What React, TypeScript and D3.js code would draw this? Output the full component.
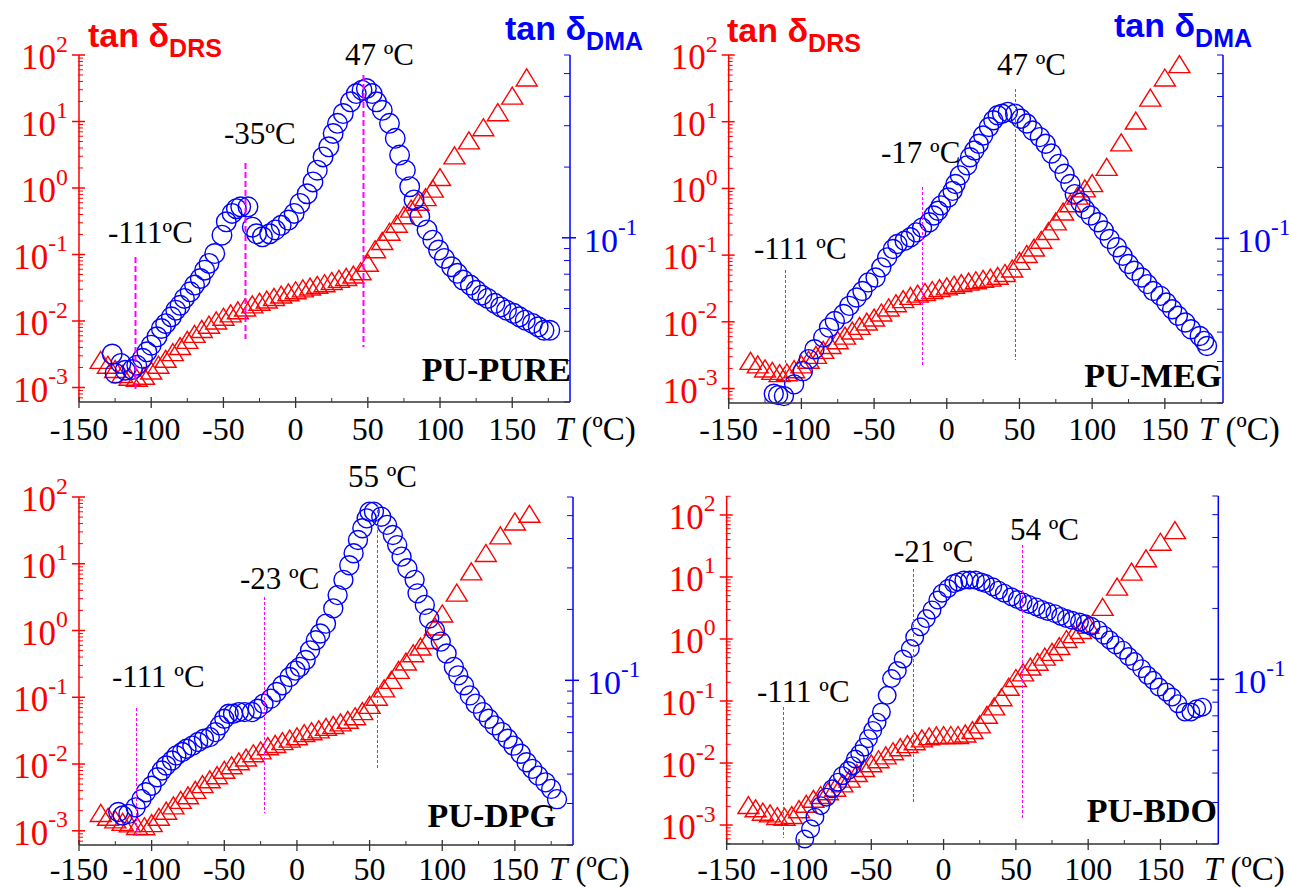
import React from "react";
import * as d3 from "d3";

// ---- shared axis settings ----
const T_DOMAIN: [number, number] = [-150, 190];
const T_MAJOR = [-150, -100, -50, 0, 50, 100, 150];
const T_MINOR = [-125, -75, -25, 25, 75, 125, 175];
const DMA_DOMAIN: [number, number] = [0.02, 0.6];
const DMA_MAJOR = [0.1];

// ---- dielectric (DRS) loss, temperatures of the scan ----
const drsT = [
  -135, -130, -125, -120, -115, -110, -105, -100, -95, -90, -85, -80, -75, -70,
  -65, -60, -55, -50, -45, -40, -35, -30, -25, -20, -15, -10, -5, 0, 5, 10, 15,
  20, 25, 30, 35, 40, 45, 50, 55, 60, 65, 70, 75, 80, 85, 90, 95, 100, 110, 120,
  130, 140, 150, 160,
];

// PU-PURE
const pureDrs = [
  0.0026, 0.0022, 0.0019, 0.0016, 0.00145, 0.0014, 0.0015, 0.0018, 0.0022, 0.0027,
  0.0034, 0.0042, 0.0052, 0.0064, 0.0076, 0.0088, 0.0102, 0.0116, 0.013, 0.0145,
  0.016, 0.0178, 0.0195, 0.021, 0.023, 0.025, 0.027, 0.029, 0.031, 0.033, 0.035,
  0.037, 0.04, 0.043, 0.046, 0.05, 0.056, 0.075, 0.12, 0.16, 0.22, 0.29, 0.39,
  0.49, 0.62, 0.73, 0.98, 1.46, 3.1, 5.2, 8.2, 13.8, 24.5, 46,
];
const pureDmaT = [
  -127, -125, -121, -118, -113, -110, -106, -103, -100, -96, -93, -90, -86, -83,
  -80, -77, -73, -70, -66, -63, -60, -56, -51, -48, -44, -41, -38, -33, -30, -27,
  -23, -18, -14, -10, -5, -1, 3, 8, 12, 15, 19, 23, 26, 29, 33, 38, 42, 46, 49,
  53, 56, 60, 65, 69, 72, 76, 79, 82, 86, 91, 95, 99, 103, 108, 112, 116, 121,
  125, 129, 133, 138, 142, 146, 151, 155, 159, 164, 168, 172, 176,
];
const pureDmaV = [
  0.032, 0.0265, 0.0292, 0.0273, 0.0275, 0.0287, 0.0307, 0.0327, 0.0349, 0.0379,
  0.0411, 0.0431, 0.0461, 0.0492, 0.0516, 0.0552, 0.0589, 0.0629, 0.0671, 0.0728,
  0.0778, 0.0857, 0.1026, 0.117, 0.127, 0.133, 0.1355, 0.1355, 0.111, 0.104,
  0.101, 0.104, 0.108, 0.113, 0.119, 0.127, 0.14, 0.154, 0.173, 0.194, 0.221,
  0.244, 0.278, 0.307, 0.338, 0.379, 0.411, 0.425, 0.432, 0.411, 0.379, 0.349,
  0.307, 0.265, 0.225, 0.194, 0.165, 0.145, 0.123, 0.108, 0.0977, 0.0887, 0.0817,
  0.0753, 0.0706, 0.0661, 0.0629, 0.0598, 0.057, 0.0552, 0.0526, 0.0508, 0.0492,
  0.0477, 0.0461, 0.0446, 0.0432, 0.0418, 0.0404, 0.0404,
];

// PU-MEG
const megDrs = [
  0.0026, 0.0023, 0.002, 0.00184, 0.0017, 0.00175, 0.00195, 0.0023, 0.0027, 0.0032,
  0.0038, 0.0045, 0.0053, 0.0062, 0.0074, 0.0087, 0.0101, 0.0116, 0.0138, 0.0164,
  0.019, 0.0219, 0.0245, 0.0265, 0.028, 0.03, 0.032, 0.034, 0.036, 0.038, 0.04,
  0.042, 0.044, 0.046, 0.049, 0.054, 0.063, 0.082, 0.104, 0.13, 0.17, 0.23, 0.32,
  0.45, 0.6, 0.78, 1.0, 1.2, 2.1, 4.9, 10.4, 23, 46, 73,
];
const megDmaT = [
  -119, -116, -112, -105, -99, -95, -91, -85, -81, -77, -71, -67, -62, -58, -54,
  -49, -45, -41, -37, -34, -29, -25, -21, -17, -12, -9, -6, -4, 1, 4, 6, 9, 14,
  16, 19, 22, 25, 29, 32, 35, 38, 42, 47, 51, 55, 59, 64, 68, 72, 77, 81, 85, 88,
  92, 95, 99, 104, 108, 112, 117, 121, 125, 129, 134, 138, 142, 147, 151, 155,
  159, 164, 168, 174, 177, 179,
];
const megDmaV = [
  0.0219, 0.0216, 0.0214, 0.024, 0.0273, 0.0307, 0.0338, 0.0379, 0.0418, 0.0446,
  0.0477, 0.0517, 0.0561, 0.0598, 0.065, 0.0682, 0.0753, 0.083, 0.0901, 0.0946,
  0.0977, 0.101, 0.106, 0.111, 0.117, 0.125, 0.131, 0.138, 0.149, 0.159, 0.17,
  0.185, 0.204, 0.221, 0.236, 0.252, 0.273, 0.297, 0.317, 0.333, 0.338, 0.344,
  0.338, 0.322, 0.307, 0.287, 0.269, 0.252, 0.229, 0.207, 0.188, 0.17, 0.154,
  0.142, 0.133, 0.125, 0.117, 0.108, 0.0994, 0.0916, 0.0844, 0.0778, 0.0728,
  0.0682, 0.0639, 0.0598, 0.057, 0.0534, 0.05, 0.0469, 0.0439, 0.0411, 0.0385,
  0.0367, 0.0349,
];

// PU-DPG
const dpgDrs = [
  0.00185, 0.00162, 0.00148, 0.00136, 0.00129, 0.00118, 0.00117, 0.0013, 0.00162,
  0.002, 0.0024, 0.0029, 0.0034, 0.0041, 0.005, 0.0059, 0.0068, 0.0082, 0.0096,
  0.011, 0.0125, 0.0145, 0.016, 0.0185, 0.02, 0.022, 0.024, 0.026, 0.029, 0.031,
  0.033, 0.036, 0.0385, 0.042, 0.046, 0.052, 0.062, 0.077, 0.102, 0.136, 0.182,
  0.257, 0.343, 0.457, 0.575, 0.72, 1.15, 1.8, 3.7, 7.7, 14.5, 26.6, 43, 56,
];
const dpgDmaT = [
  -123, -120, -116, -111, -107, -104, -100, -96, -93, -90, -86, -83, -79, -76,
  -72, -68, -64, -60, -56, -53, -50, -47, -44, -40, -36, -31, -27, -23, -18, -14,
  -10, -5, -1, 2, 6, 9, 13, 16, 20, 25, 28, 32, 36, 39, 42, 45, 48, 50, 53, 58,
  62, 66, 69, 72, 76, 81, 83, 88, 91, 95, 99, 103, 108, 111, 115, 119, 123, 128,
  132, 136, 141, 145, 149, 154, 158, 162, 166, 171, 175, 179,
];
const dpgDmaV = [
  0.0276, 0.0267, 0.0271, 0.0289, 0.0313, 0.0335, 0.0357, 0.0388, 0.0414, 0.0435,
  0.0457, 0.048, 0.0496, 0.0512, 0.0528, 0.0547, 0.0565, 0.0574, 0.0603, 0.0644,
  0.0687, 0.0721, 0.0721, 0.0733, 0.0733, 0.0733, 0.0757, 0.0796, 0.0836, 0.0892,
  0.0953, 0.1033, 0.11, 0.114, 0.122, 0.134, 0.148, 0.158, 0.174, 0.202, 0.23,
  0.267, 0.308, 0.346, 0.394, 0.442, 0.487, 0.52, 0.52, 0.495, 0.457, 0.414,
  0.375, 0.335, 0.299, 0.267, 0.234, 0.209, 0.183, 0.163, 0.146, 0.13, 0.114,
  0.105, 0.0953, 0.0863, 0.0796, 0.0733, 0.0687, 0.0644, 0.0603, 0.0565, 0.0528,
  0.0488, 0.0449, 0.0421, 0.0394, 0.0369, 0.0346, 0.0313,
];

// PU-BDO
const bdoDrs = [
  0.0021, 0.00186, 0.00164, 0.00154, 0.0014, 0.00136, 0.00145, 0.0018, 0.0022,
  0.00265, 0.00305, 0.0035, 0.004, 0.0047, 0.0056, 0.0069, 0.0083, 0.0099, 0.0115,
  0.0133, 0.0155, 0.018, 0.0202, 0.0225, 0.025, 0.027, 0.028, 0.0283, 0.0283,
  0.0283, 0.03, 0.034, 0.042, 0.06, 0.082, 0.115, 0.17, 0.235, 0.29, 0.36, 0.43,
  0.52, 0.62, 0.77, 1.0, 1.2, 1.4, 1.7, 3.3, 7.0, 12.2, 20, 37, 57,
];
const bdoDmaT = [
  -96, -92, -89, -85, -81, -77, -73, -70, -66, -63, -61, -58, -55, -52, -49, -46,
  -43, -39, -36, -32, -28, -23, -20, -16, -12, -8, -4, -1, 3, 7, 10, 14, 18, 22,
  26, 29, 34, 38, 42, 47, 51, 55, 59, 64, 68, 72, 77, 81, 85, 89, 94, 98, 102,
  107, 111, 115, 119, 124, 128, 132, 137, 141, 145, 149, 154, 158, 162, 167, 171,
  175, 179,
];
const bdoDmaV = [
  0.021, 0.0232, 0.026, 0.0291, 0.0316, 0.0343, 0.0366, 0.039, 0.041, 0.043,
  0.0459, 0.0483, 0.0515, 0.056, 0.0607, 0.0658, 0.0726, 0.0855, 0.1007, 0.109,
  0.122, 0.135, 0.151, 0.167, 0.181, 0.197, 0.217, 0.232, 0.243, 0.255, 0.259,
  0.264, 0.264, 0.264, 0.259, 0.255, 0.247, 0.239, 0.232, 0.224, 0.218, 0.213,
  0.208, 0.203, 0.198, 0.194, 0.19, 0.185, 0.181, 0.178, 0.175, 0.172, 0.168,
  0.162, 0.154, 0.147, 0.14, 0.133, 0.125, 0.119, 0.111, 0.104, 0.099, 0.0927,
  0.0883, 0.0841, 0.0788, 0.0726, 0.0726, 0.075, 0.0762,
];

// transition temperatures marked on each panel
const pureMarks = [-111, -35, 47];
const megMarks = [-111, -17, 47];
const dpgMarks = [-111, -23, 55];
const bdoMarks = [-111, -21, 54];
const pureMarkLabels = ["-111ºC", "-35ºC", "47 ºC"];
const megMarkLabels = ["-111 ºC", "-17 ºC", "47 ºC"];
const dpgMarkLabels = ["-111 ºC", "-23 ºC", "55 ºC"];
const bdoMarkLabels = ["-111 ºC", "-21 ºC", "54 ºC"];

// ---- layout of the four panels ----
type MarkPos = { tx: number; ty: number; top: number; bottom: number };
type PanelCfg = {
  name: string;
  drs: number[];
  dmaT: number[];
  dmaV: number[];
  marks: number[];
  markLabels: string[];
  markPos: MarkPos[];
  x0: number;
  x1: number;
  y0: number;
  y1: number;
  logLo: number;
  logHi: number;
  nameX: number;
  nameY: number;
  tLabelX: number;
  tickY: number;
  r: number;
  titles?: { rx: number; ry: number; bx: number; by: number };
  dashed: boolean;
};

const panels: PanelCfg[] = [
  {
    name: "PU-PURE",
    drs: pureDrs,
    dmaT: pureDmaT,
    dmaV: pureDmaV,
    marks: pureMarks,
    markLabels: pureMarkLabels,
    markPos: [
      { tx: 108, ty: 243, top: 257, bottom: 390 },
      { tx: 224, ty: 144, top: 163, bottom: 339 },
      { tx: 345, ty: 65, top: 75, bottom: 347 },
    ],
    x0: 79, x1: 570, y0: 55, y1: 402, logLo: -3.218, logHi: 2,
    nameX: 571, nameY: 381, tLabelX: 555, tickY: 440, r: 9.8,
    titles: { rx: 88, ry: 47, bx: 505, by: 40 },
    dashed: true,
  },
  {
    name: "PU-MEG",
    drs: megDrs,
    dmaT: megDmaT,
    dmaV: megDmaV,
    marks: megMarks,
    markLabels: megMarkLabels,
    markPos: [
      { tx: 754, ty: 259, top: 270, bottom: 383 },
      { tx: 881, ty: 163, top: 187, bottom: 365 },
      { tx: 997, ty: 75, top: 89, bottom: 360 },
    ],
    x0: 728.7, x1: 1223, y0: 55, y1: 403, logLo: -3.217, logHi: 2,
    nameX: 1222, nameY: 387, tLabelX: 1199, tickY: 440, r: 9.5,
    titles: { rx: 727, ry: 42, bx: 1114, by: 37 },
    dashed: false,
  },
  {
    name: "PU-DPG",
    drs: dpgDrs,
    dmaT: dpgDmaT,
    dmaV: dpgDmaV,
    marks: dpgMarks,
    markLabels: dpgMarkLabels,
    markPos: [
      { tx: 112, ty: 687, top: 708, bottom: 838 },
      { tx: 240, ty: 589, top: 597, bottom: 813 },
      { tx: 348, ty: 487, top: 505, bottom: 768 },
    ],
    x0: 79, x1: 573, y0: 497, y1: 845, logLo: -3.213, logHi: 2,
    nameX: 556, nameY: 827, tLabelX: 549, tickY: 880, r: 9.5,
    dashed: false,
  },
  {
    name: "PU-BDO",
    drs: bdoDrs,
    dmaT: bdoDmaT,
    dmaV: bdoDmaV,
    marks: bdoMarks,
    markLabels: bdoMarkLabels,
    markPos: [
      { tx: 757, ty: 702, top: 707, bottom: 838 },
      { tx: 894, ty: 562, top: 569, bottom: 803 },
      { tx: 1010, ty: 540, top: 545, bottom: 818 },
    ],
    x0: 726.7, x1: 1218.3, y0: 496, y1: 844, logLo: -3.306, logHi: 2.306,
    nameX: 1217, nameY: 822, tLabelX: 1204, tickY: 880, r: 8.8,
    dashed: false,
  },
];

const RED = "#ff0000";
const BLUE = "#0000ff";
const MAGENTA = "#ff00ff";
const SERIF = "'Liberation Serif', 'Times New Roman', serif";
const SANS = "'Liberation Sans', Arial, sans-serif";

const triPath = "M0,-8.5 L10.5,8.5 L-10.5,8.5 Z";

function logTicks(lo: number, hi: number) {
  const major: number[] = [];
  const minor: number[] = [];
  for (let k = Math.floor(lo) - 1; k <= Math.ceil(hi); k++) {
    const base = Math.pow(10, k);
    if (k >= lo - 1e-9 && k <= hi + 1e-9) major.push(base);
    for (let m = 2; m <= 9; m++) {
      const v = m * base;
      const l = Math.log10(v);
      if (l >= lo - 1e-6 && l <= hi + 1e-6) minor.push(v);
    }
  }
  return { major, minor };
}

function Pow10({ x, y, exp, fill, anchor, size }: any) {
  return (
    <text x={x} y={y} fill={fill} fontFamily={SERIF} fontSize={size} textAnchor={anchor}>
      10
      <tspan fontSize={size * 0.68} dy={-size * 0.5}>
        {exp}
      </tspan>
    </text>
  );
}

function Panel({ p }: { p: PanelCfg }) {
  const x = d3.scaleLinear().domain(T_DOMAIN).range([p.x0, p.x1]);
  const yL = d3
    .scaleLog()
    .domain([Math.pow(10, p.logLo), Math.pow(10, p.logHi)])
    .range([p.y1, p.y0]);
  const yR = d3.scaleLog().domain(DMA_DOMAIN).range([p.y1, p.y0]);

  const lt = logTicks(p.logLo, p.logHi);
  const rt = logTicks(Math.log10(DMA_DOMAIN[0]), Math.log10(DMA_DOMAIN[1]));

  const axisGray = "#333333";

  return (
    <g>
      {/* DRS triangles */}
      <g fill="none" stroke={RED} strokeWidth={1.4}>
        {p.drs.map((v, i) => (
          <path key={i} d={triPath} transform={`translate(${x(drsT[i])},${yL(v)})`} />
        ))}
      </g>
      {/* DMA circles */}
      <g fill="none" stroke={BLUE} strokeWidth={1.4}>
        {p.dmaV.map((v, i) => (
          <circle key={i} cx={x(p.dmaT[i])} cy={yR(v)} r={p.r} />
        ))}
      </g>

      {/* transition markers */}
      {p.marks.map((t, i) => {
        const m = p.markPos[i];
        const lx = Math.round(x(t)) + 0.5;
        return (
          <g key={i}>
            <line
              x1={lx}
              x2={lx}
              y1={m.top}
              y2={m.bottom}
              stroke={MAGENTA}
              strokeWidth={p.dashed ? 2 : 1}
              strokeDasharray={p.dashed ? "6,3" : "3,2"}
            />
            <text x={m.tx} y={m.ty} fontFamily={SERIF} fontSize={31} fill="#000">
              {p.markLabels[i]}
            </text>
          </g>
        );
      })}

      {/* left axis (DRS) */}
      <line x1={p.x0} x2={p.x0} y1={p.y0} y2={p.y1} stroke={RED} strokeWidth={1.5} />
      {lt.minor.map((v, i) => (
        <line key={"lm" + i} x1={p.x0 - 1} x2={p.x0 + 4} y1={yL(v)} y2={yL(v)} stroke={RED} strokeWidth={1} />
      ))}
      {lt.major.map((v, i) => (
        <g key={"lM" + i}>
          <line x1={p.x0 - 7} x2={p.x0 + 6} y1={yL(v)} y2={yL(v)} stroke={RED} strokeWidth={1.5} />
          <Pow10 x={p.x0 - 11} y={yL(v) + 14} exp={String(Math.round(Math.log10(v)))} fill={RED} anchor="end" size={35} />
        </g>
      ))}

      {/* right axis (DMA) */}
      <line x1={p.x1} x2={p.x1} y1={p.y0} y2={p.y1} stroke={BLUE} strokeWidth={1.5} />
      {rt.minor.map((v, i) => (
        <line key={"rm" + i} x1={p.x1 - 6} x2={p.x1} y1={yR(v)} y2={yR(v)} stroke={BLUE} strokeWidth={1} />
      ))}
      {DMA_MAJOR.map((v, i) => (
        <g key={"rM" + i}>
          <line x1={p.x1 - 8} x2={p.x1 + 6} y1={yR(v)} y2={yR(v)} stroke={BLUE} strokeWidth={1.5} />
          <Pow10 x={p.x1 + 14} y={yR(v) + 14} exp={String(Math.round(Math.log10(v)))} fill={BLUE} anchor="start" size={34} />
        </g>
      ))}

      {/* bottom axis (temperature) */}
      <line x1={p.x0} x2={p.x1} y1={p.y1} y2={p.y1} stroke={axisGray} strokeWidth={1.5} />
      {T_MINOR.map((t) => (
        <line key={"bm" + t} x1={x(t)} x2={x(t)} y1={p.y1 - 4} y2={p.y1} stroke={axisGray} strokeWidth={1} />
      ))}
      {T_MAJOR.map((t) => (
        <g key={"bM" + t}>
          <line x1={x(t)} x2={x(t)} y1={p.y1 - 5} y2={p.y1 + 6} stroke={axisGray} strokeWidth={1.3} />
          <text x={x(t)} y={p.tickY} textAnchor="middle" fontFamily={SERIF} fontSize={32} fill="#000">
            {String(t)}
          </text>
        </g>
      ))}
      <text x={p.tLabelX} y={p.tickY} fontFamily={SERIF} fontSize={33} fill="#000">
        <tspan fontStyle="italic">T</tspan> (ºC)
      </text>

      {/* sample name */}
      <text x={p.nameX} y={p.nameY} textAnchor="end" fontFamily={SERIF} fontWeight="bold" fontSize={34} fill="#000">
        {p.name}
      </text>

      {p.titles && (
        <g fontFamily={SANS} fontWeight="bold">
          <text x={p.titles.rx} y={p.titles.ry} fontSize={34} fill={RED}>
            tan δ<tspan fontSize={25} dy={10}>DRS</tspan>
          </text>
          <text x={p.titles.bx} y={p.titles.by} fontSize={34} fill={BLUE}>
            tan δ<tspan fontSize={25} dy={10}>DMA</tspan>
          </text>
        </g>
      )}
    </g>
  );
}

export default function App() {
  return (
    <svg
      width={1289}
      height={887}
      viewBox="0 0 1289 887"
      style={{ position: "absolute", left: 0, top: 0, background: "#fff" }}
    >
      <rect width={1289} height={887} fill="#fff" />
      {panels.map((p) => (
        <Panel key={p.name} p={p} />
      ))}
    </svg>
  );
}
